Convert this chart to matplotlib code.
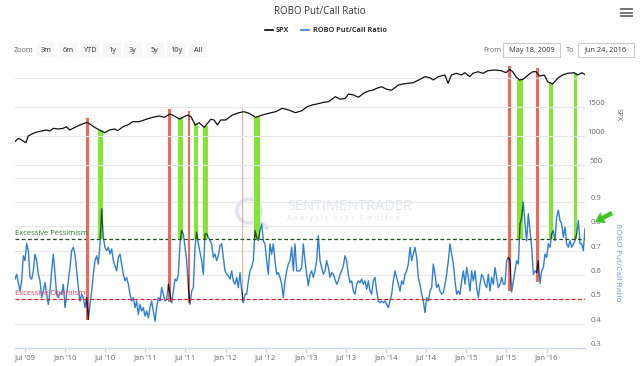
import numpy as np
import pandas as pd
import matplotlib
matplotlib.use('Agg')
import matplotlib.pyplot as plt
import matplotlib.dates as mdates
from matplotlib.patches import Rectangle, Circle, FancyArrow

plt.rcParams['font.family'] = ['Open Sans', 'DejaVu Sans']

W, H = 640, 366

# ---- data ----
start_date = '2009-05-18'
end_date = '2016-06-24'

spx_dates = [
    '2009-05-18', '2009-06-02', '2009-06-17', '2009-07-07', '2009-07-17', '2009-08-09',
    '2009-09-01', '2009-09-23', '2009-10-08', '2009-10-24', '2009-11-08', '2009-11-30',
    '2009-12-23', '2010-01-07', '2010-01-22', '2010-02-06', '2010-03-09', '2010-04-11',
    '2010-04-30', '2010-05-23', '2010-06-07', '2010-06-30', '2010-07-22', '2010-08-14',
    '2010-08-29', '2010-09-21', '2010-10-13', '2010-11-05', '2010-12-05', '2011-01-05',
    '2011-02-04', '2011-03-06', '2011-03-29', '2011-04-23', '2011-05-13', '2011-06-05',
    '2011-06-27', '2011-07-12', '2011-07-28', '2011-08-16', '2011-09-03', '2011-09-26',
    '2011-10-11', '2011-10-26', '2011-11-10', '2011-11-25', '2011-12-10', '2012-01-02',
    '2012-02-01', '2012-03-02', '2012-03-25', '2012-04-17', '2012-05-17', '2012-06-16',
    '2012-07-16', '2012-08-16', '2012-09-15', '2012-10-15', '2012-11-14', '2012-12-14',
    '2013-01-06', '2013-01-29', '2013-02-20', '2013-03-23', '2013-04-14', '2013-05-15',
    '2013-06-06', '2013-06-29', '2013-07-14', '2013-08-06', '2013-08-28', '2013-09-20',
    '2013-10-13', '2013-11-04', '2013-11-19', '2013-12-12', '2014-01-03', '2014-01-26',
    '2014-02-25', '2014-03-20', '2014-04-12', '2014-05-04', '2014-06-04', '2014-06-26',
    '2014-07-19', '2014-08-03', '2014-08-26', '2014-09-25', '2014-10-10', '2014-10-25',
    '2014-11-17', '2014-12-09', '2014-12-25', '2015-01-16', '2015-01-31', '2015-02-23',
    '2015-03-18', '2015-04-09', '2015-05-10', '2015-06-09', '2015-07-01', '2015-07-17',
    '2015-07-31', '2015-08-15', '2015-08-31', '2015-09-15', '2015-09-30', '2015-10-15',
    '2015-10-30', '2015-11-14', '2015-11-30', '2015-12-22', '2016-01-06', '2016-01-29',
    '2016-02-20', '2016-03-14', '2016-04-06', '2016-05-06', '2016-05-21', '2016-06-10',
    '2016-06-24',
]
spx_values = [
    902, 960, 931, 885, 1000, 1046,
    1075, 1092, 1103, 1086, 1132, 1121,
    1132, 1160, 1103, 1132, 1190, 1236,
    1190, 1132, 1103, 1057, 1103, 1121,
    1092, 1160, 1190, 1247, 1247, 1288,
    1322, 1345, 1322, 1379, 1345, 1293,
    1333, 1362, 1333, 1190, 1230, 1150,
    1219, 1288, 1276, 1190, 1276, 1276,
    1362, 1402, 1419, 1391, 1322, 1362,
    1391, 1419, 1477, 1448, 1402, 1436,
    1505, 1534, 1552, 1581, 1591, 1678,
    1633, 1650, 1724, 1707, 1667, 1736,
    1776, 1793, 1822, 1850, 1805, 1790,
    1879, 1897, 1909, 1919, 1977, 2022,
    2005, 1966, 2022, 2052, 1909, 2052,
    2081, 2052, 2091, 2022, 2081, 2108,
    2081, 2126, 2138, 2126, 2091, 2150,
    2108, 2022, 1966, 1977, 2022, 2069,
    2108, 2108, 2034, 2052, 1936, 1897,
    1995, 2052, 2081, 2091, 2052, 2091,
    2060,
]

ratio_values = [
    # May 2009 - Sep 2011
    0.583, 0.603, 0.569, 0.534, 0.576, 0.679, 0.659, 0.730, 0.700, 0.590,
    0.583, 0.617, 0.686, 0.659, 0.603, 0.576, 0.507, 0.534, 0.569, 0.521,
    0.479, 0.534, 0.617, 0.686, 0.603, 0.521, 0.507, 0.528, 0.521, 0.562,
    0.466, 0.521, 0.576, 0.631, 0.700, 0.714, 0.686, 0.617, 0.548, 0.493,
    0.521, 0.507, 0.466, 0.507, 0.418, 0.479, 0.534, 0.603, 0.659, 0.679,
    0.645, 0.728, 0.872, 0.755, 0.714, 0.700, 0.714, 0.686, 0.707, 0.659,
    0.638, 0.617, 0.672, 0.686, 0.645, 0.603, 0.576, 0.590, 0.562, 0.521,
    0.493, 0.507, 0.466, 0.493, 0.438, 0.479, 0.452, 0.466, 0.431, 0.452,
    0.424, 0.466, 0.493, 0.452, 0.410, 0.466, 0.507, 0.493, 0.548, 0.521,
    0.493, 0.500, 0.562, 0.521, 0.485, 0.534, 0.583, 0.576, 0.603, 0.728,
    0.783, 0.769, 0.714, 0.659, 0.548, 0.480, 0.534, 0.548, 0.714, 0.776,
    0.728, 0.693, 0.659, 0.603, 0.769,
    # Oct 2011 - Jan 2014
    0.769, 0.755, 0.741, 0.728, 0.672, 0.686, 0.659, 0.679, 0.721, 0.728,
    0.672, 0.617, 0.603, 0.597, 0.583, 0.617, 0.576, 0.562, 0.590, 0.548,
    0.610, 0.534, 0.486, 0.521, 0.521, 0.576, 0.617, 0.631, 0.659, 0.783,
    0.755, 0.741, 0.783, 0.810, 0.741, 0.728, 0.659, 0.603, 0.728, 0.686,
    0.728, 0.659, 0.603, 0.610, 0.590, 0.562, 0.507, 0.576, 0.617, 0.645,
    0.659, 0.714, 0.617, 0.728, 0.617, 0.617, 0.617, 0.631, 0.728, 0.659,
    0.603, 0.555, 0.603, 0.617, 0.590, 0.617, 0.659, 0.762, 0.659, 0.631,
    0.603, 0.617, 0.659, 0.631, 0.590, 0.610, 0.603, 0.583, 0.562, 0.576,
    0.603, 0.617, 0.638, 0.679, 0.659, 0.603, 0.569, 0.576, 0.534, 0.521,
    0.562, 0.576, 0.569, 0.583, 0.562, 0.576, 0.541, 0.576, 0.534, 0.521,
    0.576, 0.590, 0.534, 0.493, 0.486, 0.493, 0.486, 0.493, 0.479, 0.466,
    0.493, 0.521, 0.576, 0.617,
    # Feb 2014 - Jun 2016
    0.590, 0.562, 0.534, 0.576, 0.562, 0.603, 0.617, 0.645, 0.714, 0.659,
    0.686, 0.714, 0.672, 0.590, 0.562, 0.521, 0.493, 0.445, 0.507, 0.493,
    0.534, 0.548, 0.645, 0.603, 0.548, 0.562, 0.534, 0.521, 0.528, 0.562,
    0.603, 0.659, 0.728, 0.686, 0.645, 0.576, 0.521, 0.534, 0.521, 0.576,
    0.617, 0.562, 0.631, 0.590, 0.534, 0.617, 0.576, 0.617, 0.548, 0.507,
    0.562, 0.603, 0.590, 0.562, 0.548, 0.603, 0.534, 0.590, 0.562, 0.631,
    0.590, 0.548, 0.562, 0.590, 0.562, 0.562, 0.659, 0.672, 0.659, 0.530,
    0.576, 0.617, 0.659, 0.645, 0.810, 0.838, 0.900, 0.810, 0.741, 0.852,
    0.783, 0.714, 0.603, 0.617, 0.610, 0.659, 0.565, 0.617, 0.631, 0.686,
    0.672, 0.728, 0.714, 0.769, 0.783, 0.741, 0.838, 0.866, 0.824, 0.810,
    0.755, 0.797, 0.728, 0.714, 0.741, 0.714, 0.728, 0.741, 0.769, 0.824,
    0.728, 0.728, 0.700, 0.790,
]

# excessive optimism signals (red) and pessimism signals (green)
red_dates = ['2010-04-12', '2011-04-22', '2011-07-20', '2012-03-18', '2015-07-18', '2015-11-20']
red_lows = [0.415, 0.49, 0.485, 0.49, 0.535, 0.57]
red_widths = [13, 15, 11, 8, 13, 13]  # days
green_dates = ['2010-06-11', '2011-06-10', '2011-08-20', '2011-10-02',
               '2012-05-23', '2015-09-01', '2016-01-22', '2016-05-11']
green_widths = [22, 21, 21, 22, 27, 27, 19, 15]  # days

pessimism_level = 0.75
optimism_level = 0.50

x_tick_dates = ['2009-07-01', '2010-01-01', '2010-07-01', '2011-01-01', '2011-07-01',
                '2012-01-01', '2012-07-01', '2013-01-01', '2013-07-01', '2014-01-01',
                '2014-07-01', '2015-01-01', '2015-07-01', '2016-01-01']
x_tick_labels = ["Jul '09", "Jan '10", "Jul '10", "Jan '11", "Jul '11", "Jan '12", "Jul '12",
                 "Jan '13", "Jul '13", "Jan '14", "Jul '14", "Jan '15", "Jul '15", "Jan '16"]
ratio_ticks = [0.3, 0.4, 0.5, 0.6, 0.7, 0.8, 0.9]
spx_ticks = [500, 1000, 1500]

# ---- figure ----
fig = plt.figure(figsize=(W / 100, H / 100), dpi=100, facecolor='white')

# background overlay in pixel coords (watermark)
bg = fig.add_axes([0, 0, 1, 1], zorder=0)
bg.set_xlim(0, W)
bg.set_ylim(H, 0)
bg.axis('off')

plot_top, plot_bottom, plot_left, plot_right = 66, 348, 15, 585
ax = fig.add_axes([plot_left / W, (H - plot_bottom) / H,
                   (plot_right - plot_left) / W, (plot_bottom - plot_top) / H], zorder=1)
ax.patch.set_visible(False)
ax_spx = ax.twinx()

ratio_dates = pd.date_range(start_date, end_date, periods=len(ratio_values))
spx_dt = pd.to_datetime(spx_dates)

ax.set_xlim(pd.Timestamp(start_date), pd.Timestamp(end_date))
ax.set_ylim(0.3, 0.3 + (plot_bottom - plot_top) / 243.3)
ax_spx.set_ylim(1500 - (plot_bottom - 107) / 0.058, 1500 + (107 - plot_top) / 0.058)

grid_c = '#e6e6e6'
for v in [0.4, 0.5, 0.6, 0.7, 0.8, 0.9, 1.0]:
    ax.axhline(v, color=grid_c, lw=0.8, zorder=0)
for v in [500, 1000, 1500, 2000]:
    ax_spx.axhline(v, color=grid_c, lw=0.8, zorder=0)

ax.plot(ratio_dates, ratio_values, color='#2f7ed8', lw=1.0, zorder=2)
ax.axhline(pessimism_level, color='#1d4d1d', lw=0.9, ls=(0, (3, 2)), zorder=2.5)
ax.axhline(optimism_level, color='#e8202a', lw=0.9, ls=(0, (3, 2)), zorder=2.5)
ax.text(0.0, pessimism_level + 0.008, 'Excessive Pessimism', color='#2a7a2a', fontsize=5.5,
        transform=ax.get_yaxis_transform(), va='bottom', ha='left', zorder=5)
ax.text(0.0, optimism_level + 0.008, 'Excessive Optimism', color='#f0405a', fontsize=5.5,
        transform=ax.get_yaxis_transform(), va='bottom', ha='left', zorder=5)

spx_num = mdates.date2num(spx_dt)


def spx_to_ratio(xnum, spx_val):
    disp = ax_spx.transData.transform((xnum, spx_val))
    return ax.transData.inverted().transform(disp)[1]


# signal bars, with the ratio line darkened where it runs inside a bar
for d, low, w in zip(red_dates, red_lows, red_widths):
    xn = mdates.date2num(pd.Timestamp(d))
    top = spx_to_ratio(xn, np.interp(xn, spx_num, spx_values)) + 0.02
    alpha = 0.55 if w < 10 else 0.95
    bars = ax.bar(xn, top - low, bottom=low, width=w, color='#f2604f', alpha=alpha,
                  zorder=3, lw=0)
    dark, = ax.plot(ratio_dates, ratio_values, color='#3a0f1c', lw=1.0, zorder=4)
    dark.set_clip_path(bars[0])

for d, w in zip(green_dates, green_widths):
    xn = mdates.date2num(pd.Timestamp(d))
    top = spx_to_ratio(xn, np.interp(xn, spx_num, spx_values))
    bars = ax.bar(xn, top - pessimism_level, bottom=pessimism_level, width=w,
                  color='#84e534', zorder=3, lw=0)
    dark, = ax.plot(ratio_dates, ratio_values, color='#1f5a12', lw=1.0, zorder=4)
    dark.set_clip_path(bars[0])

ax_spx.plot(spx_dt, spx_values, color='#111111', lw=0.9, zorder=5)

# axes styling
for a in (ax, ax_spx):
    for s in ['top', 'left', 'right']:
        a.spines[s].set_visible(False)
ax_spx.spines['bottom'].set_visible(False)
ax.spines['bottom'].set_color('#ccd6eb')
ax.spines['bottom'].set_linewidth(1.0)

ax.set_xticks(pd.to_datetime(x_tick_dates))
ax.set_xticklabels(x_tick_labels)
ax.tick_params(axis='x', length=3.5, color='#ccd6eb', pad=1, labelsize=5.5, labelcolor='#666666')

ax.yaxis.tick_right()
ax.set_yticks(ratio_ticks)
ax.set_yticklabels(['%.1f' % t for t in ratio_ticks])
ax_spx.set_yticks(spx_ticks)
ax_spx.set_yticklabels([str(t) for t in spx_ticks])
for a in (ax, ax_spx):
    a.tick_params(axis='y', length=0, pad=8, labelsize=5.5, labelcolor='#666666',
                  left=False, labelleft=False, right=True, labelright=True)
    for lab in a.get_yticklabels():
        lab.set_ha('center')
        lab.set_va('bottom')

fig.text(618 / W, 1 - 115 / H, 'SPX', rotation=270, fontsize=5.5, color='#666666',
         ha='center', va='center')
fig.text(618 / W, 1 - 262 / H, 'ROBO Put/Call Ratio', rotation=270, fontsize=6,
         color='#6a9be0', ha='center', va='center')

# watermark
wm = '#dfe5ee'
bg.add_patch(Circle((249, 211), 12, fill=False, ec=wm, lw=2.5))
bg.plot([257, 267], [219, 228], color=wm, lw=3, solid_capstyle='round')
bg.text(287, 206, 'SENTIMENTRADER', fontsize=10.5, color=wm, va='center', ha='left')
bg.text(287, 218.5, 'A n a l y s i s   o v e r   E m o t i o n', fontsize=5.3, color=wm,
        va='center', ha='left')

# foreground overlay in pixel coords (header, arrow)
fg = fig.add_axes([0, 0, 1, 1], zorder=10)
fg.set_xlim(0, W)
fg.set_ylim(H, 0)
fg.axis('off')
fg.patch.set_visible(False)

fg.text(320, 12, 'ROBO Put/Call Ratio', fontsize=7, color='#333333', ha='center', va='center')
fg.plot([265, 273], [30, 30], color='black', lw=1.2)
fg.text(276, 30, 'SPX', fontsize=5.3, fontweight='bold', color='#333333', va='center')
fg.plot([301, 309], [30, 30], color='#2f7ed8', lw=1.2)
fg.text(313, 30, 'ROBO Put/Call Ratio', fontsize=5.3, fontweight='bold', color='#333333',
        va='center')

for yy in (9, 12.5, 16):
    fg.plot([621, 632], [yy, yy], color='#666666', lw=1.3)

fg.text(14, 50, 'Zoom', fontsize=5.3, color='#666666', va='center')
buttons = [('3m', 37, 55), ('6m', 59, 77), ('YTD', 81, 99), ('1y', 103, 121), ('3y', 124, 142),
           ('5y', 146, 164), ('10y', 167, 186), ('All', 189, 207)]
for lbl, x0, x1 in buttons:
    fg.add_patch(Rectangle((x0, 43), x1 - x0, 14, facecolor='#f7f7f7', edgecolor='none'))
    fg.text((x0 + x1) / 2, 50, lbl, fontsize=5.3, color='#333333', ha='center', va='center')

fg.text(483, 50, 'From', fontsize=5.3, color='#666666', va='center')
fg.add_patch(Rectangle((503, 43), 57, 14, facecolor='white', edgecolor='#cccccc', lw=0.8))
fg.text(531.5, 50, 'May 18, 2009', fontsize=5.3, color='#333333', ha='center', va='center')
fg.text(566, 50, 'To', fontsize=5.3, color='#666666', va='center')
fg.add_patch(Rectangle((578, 43), 56, 14, facecolor='white', edgecolor='#cccccc', lw=0.8))
fg.text(606, 50, 'Jun 24, 2016', fontsize=5.3, color='#333333', ha='center', va='center')

fg.add_patch(FancyArrow(612, 213, -17, 9, width=4.5, head_width=12, head_length=9,
                        length_includes_head=True, color='#3ec71e', lw=0))

fig.savefig('out.png', dpi=100, facecolor='white')
